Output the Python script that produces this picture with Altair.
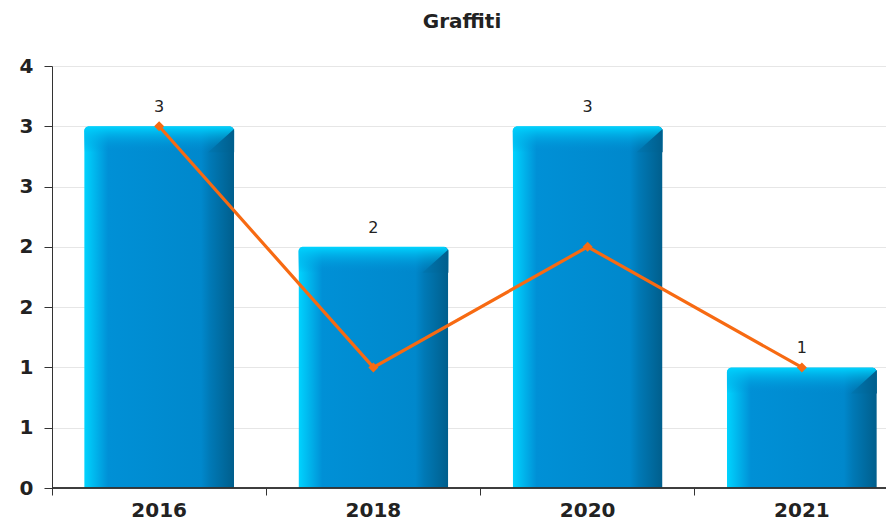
import altair as alt
import pandas as pd

years = ["2016", "2018", "2020", "2021"]
bar_values = [3, 2, 3, 1]
line_values = [3, 1, 2, 1]
y_ticks = [0, 0.5, 1, 1.5, 2, 2.5, 3, 3.5]
title_text = "Graffiti"

df = pd.DataFrame({"year": years, "bars": bar_values, "line": line_values})

FONT = "DejaVu Sans"
ORANGE = "#f76a12"
AXIS = "#333333"

x_enc = alt.X(
    "year:N", sort=years, title=None,
    scale=alt.Scale(range=[0, 857], paddingInner=0, paddingOuter=0),
    axis=alt.Axis(labelAngle=0, bandPosition=0, tickSize=7, labelPadding=5,
                  labelFont=FONT, labelFontSize=20, labelFontWeight="bold",
                  labelColor="#222222", domain=False, tickColor=AXIS,
                  grid=False),
)
y_scale = alt.Scale(domain=[0, 3.5], nice=False, zero=True)

face = alt.Gradient(
    gradient="linear", x1=0, y1=0, x2=1, y2=0,
    stops=[
        alt.GradientStop(offset=0, color="#00d4ff"),
        alt.GradientStop(offset=0.16, color="#0090d6"),
        alt.GradientStop(offset=0.78, color="#0088cc"),
        alt.GradientStop(offset=0.84, color="#0079b6"),
        alt.GradientStop(offset=1, color="#005e8c"),
    ],
)
cap = alt.Gradient(
    gradient="linear", x1=0, y1=0, x2=0, y2=1,
    stops=[
        alt.GradientStop(offset=0, color="rgba(0,212,255,1)"),
        alt.GradientStop(offset=1, color="rgba(0,140,210,0)"),
    ],
)
corner = alt.Gradient(
    gradient="linear", x1=0, y1=0, x2=1, y2=0,
    stops=[
        alt.GradientStop(offset=0, color="#0077b2"),
        alt.GradientStop(offset=1, color="#005e8c"),
    ],
)

base = alt.Chart(df)

bars = base.mark_bar(
    width=alt.RelativeBandSize(0.7), color=face,
    cornerRadiusTopLeft=5, cornerRadiusTopRight=5,
).encode(
    x=x_enc,
    y=alt.Y("bars:Q", scale=y_scale, title=None,
            axis=alt.Axis(values=y_ticks, format=".0f", tickSize=8, labelPadding=11,
                          labelFont=FONT, labelFontSize=20, labelFontWeight="bold",
                          labelColor="#222222", domainColor=AXIS,
                          tickColor=AXIS, gridColor="#e6e6e6", grid=True)),
)

caps = base.mark_bar(
    width=alt.RelativeBandSize(0.7), color=cap,
    cornerRadiusTopLeft=5, cornerRadiusTopRight=5, y2Offset=26,
).encode(
    x=alt.X("year:N", sort=years),
    y=alt.Y("bars:Q"),
    y2=alt.Y2("bars:Q"),
)

corners = base.mark_point(
    shape="M1,-0.8L1,1L-1,1Z", size=676, filled=True, color=corner,
    opacity=1, strokeWidth=0, xOffset=62, yOffset=13,
).encode(
    x=alt.X("year:N", sort=years),
    y=alt.Y("bars:Q"),
)

baseline = base.mark_rule(color=AXIS, strokeWidth=1).encode(
    x=alt.value(0),
    x2=alt.value({"expr": "width"}),
    y=alt.datum(0),
)

line = base.mark_line(
    color=ORANGE, strokeWidth=3.2,
    point=alt.OverlayMarkDef(shape="diamond", size=100, filled=True, color=ORANGE, opacity=1),
).encode(
    x=alt.X("year:N", sort=years),
    y=alt.Y("line:Q"),
)

labels = base.mark_text(
    baseline="bottom", dy=-11, font=FONT, fontSize=16, color="#222222",
).encode(
    x=alt.X("year:N", sort=years),
    y=alt.Y("bars:Q"),
    text=alt.Text("bars:Q"),
)

chart = alt.layer(bars, caps, corners, baseline, line, labels).properties(
    width=834, height=422,
    title=alt.TitleParams(title_text, font=FONT, fontSize=20, fontWeight="bold",
                          color="#222222", anchor="middle", offset=24, dx=-7),
    autosize=alt.AutoSizeParams(type="none"),
    padding={"left": 44, "top": 58, "right": 0, "bottom": 32},
).configure_view(stroke=None)

chart.save("out.html", embed_options={"renderer": "svg", "actions": False})
